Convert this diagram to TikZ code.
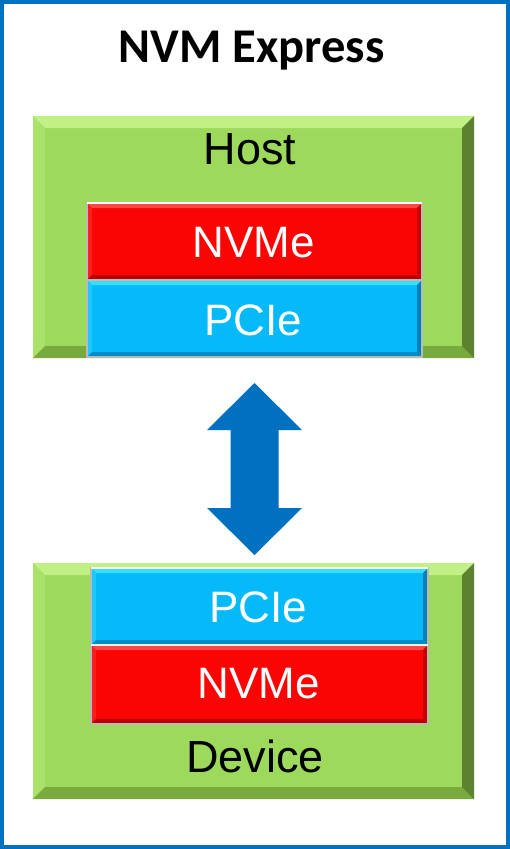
\documentclass[tikz,border=0pt]{standalone}
\usepackage{fontspec}
\setmainfont{Liberation Sans}
\newfontfamily\titlefont{Carlito}
\usetikzlibrary{calc}
\definecolor{frameblue}{RGB}{0,112,192}
\definecolor{gmain}{RGB}{157,217,91}
\definecolor{gtop}{RGB}{192,240,134}
\definecolor{gleft}{RGB}{168,226,104}
\definecolor{gbot}{RGB}{120,170,62}
\definecolor{gright}{RGB}{92,130,48}
\definecolor{rmain}{RGB}{250,4,4}
\definecolor{rtop}{RGB}{255,70,70}
\definecolor{rleft}{RGB}{255,30,30}
\definecolor{rbot}{RGB}{185,0,0}
\definecolor{rright}{RGB}{200,0,0}
\definecolor{bmain}{RGB}{6,186,250}
\definecolor{btop}{RGB}{50,224,255}
\definecolor{bleft}{RGB}{30,200,252}
\definecolor{bbot}{RGB}{0,140,200}
\definecolor{bright}{RGB}{0,128,185}
\newcommand\bevelbox[6]{%
  \fill[#3] (#1.north west) -- (#1.north east) -- ([shift={(-#2,#2)}]#1.north east) -- ([shift={(#2,#2)}]#1.north west) -- cycle;
  \fill[#4] (#1.north west) -- ([shift={(#2,#2)}]#1.north west) -- ([shift={(#2,-#2)}]#1.south west) -- (#1.south west) -- cycle;
  \fill[#5] (#1.south west) -- (#1.south east) -- ([shift={(-#2,-#2)}]#1.south east) -- ([shift={(#2,-#2)}]#1.south west) -- cycle;
  \fill[#6] (#1.north east) -- (#1.south east) -- ([shift={(-#2,-#2)}]#1.south east) -- ([shift={(-#2,#2)}]#1.north east) -- cycle;
}
\tikzset{
  box/.style={rectangle, inner sep=0pt, outer sep=0pt, draw=none},
  greenbox/.style={box, fill=gmain, minimum width=441pt},
  redbox/.style={box, fill=rmain, minimum height=77pt},
  bluebox/.style={box, fill=bmain, minimum height=77pt},
  edge/.style={draw=gray!55, line width=1.6pt},
  lbl/.style={inner sep=0pt, anchor=base, font=\fontsize{45}{45}\selectfont, text=black},
  wlbl/.style={inner sep=0pt, anchor=base, font=\fontsize{44}{44}\selectfont, text=white},
  titlestyle/.style={inner sep=0pt, anchor=base, font=\titlefont\bfseries\fontsize{48.5}{48.5}\selectfont},
  bigarrow/.style={fill=frameblue, draw=none}
}
\begin{document}
\begin{tikzpicture}[x=1pt,y=-1pt]
\useasboundingbox (0,0) rectangle (510,849);
\fill[white] (0,0) rectangle (510,849);
\draw[frameblue, line width=4pt] (2,2) rectangle (508,847);

\node[titlestyle] (title) at (251.5,62) {NVM Express};

% Host
\node[greenbox, minimum height=242pt] (host) at (253.5,237) {};
\bevelbox{host}{12}{gtop}{gleft}{gbot}{gright}
\node[lbl] (hostlbl) at (250,164) {Host};
\node[redbox, minimum width=335pt] (hnvme) at (254.5,241.5) {};
\bevelbox{hnvme}{5}{rtop}{rleft}{rbot}{rright}
\node[bluebox, minimum width=335pt] (hpcie) at (254.5,318.5) {};
\bevelbox{hpcie}{5}{btop}{bleft}{bbot}{bright}
\draw[edge] (hnvme.north west) rectangle (hpcie.south east);
\draw[edge] (hnvme.south west) -- (hnvme.south east);
\draw[white, line width=1.6pt] (hnvme.north west) -- (hnvme.north east);
\node[wlbl] (hnvmelbl) at (254,257) {NVMe};
\node[wlbl] (hpcielbl) at (253,335) {PCIe};

% Device
\node[greenbox, minimum height=236pt] (device) at (253.5,681) {};
\bevelbox{device}{12}{gtop}{gleft}{gbot}{gright}
\node[bluebox, minimum width=337pt] (dpcie) at (259.5,606.5) {};
\bevelbox{dpcie}{5}{btop}{bleft}{bbot}{bright}
\node[redbox, minimum width=337pt, minimum height=79pt] (dnvme) at (259.5,684.5) {};
\bevelbox{dnvme}{5}{rtop}{rleft}{rbot}{rright}
\draw[edge] (dpcie.north west) rectangle (dnvme.south east);
\draw[white, line width=1.6pt] (dpcie.north west) -- (dpcie.north east);
\draw[white!90!gray, line width=1.6pt] (dpcie.south west) -- (dpcie.south east);
\node[wlbl] (dpcielbl) at (258,622) {PCIe};
\node[wlbl] (dnvmelbl) at (259,698) {NVMe};
\node[lbl] (devicelbl) at (255,772) {Device};

% double arrow
\coordinate (atop) at ($(host.south)+(1,25)$);
\coordinate (abot) at ($(device.north)+(1,-8)$);
\fill[bigarrow] (atop) -- ++(47.5,47) -- ++(-23.5,0) |- ($(abot)+(24,-47)$) -- ++(23.5,0)
  -- (abot) -- ++(-47.5,-47) -- ++(23.5,0) |- ($(atop)+(-24,47)$) -- ++(-23.5,0) -- cycle;
\end{tikzpicture}
\end{document}
